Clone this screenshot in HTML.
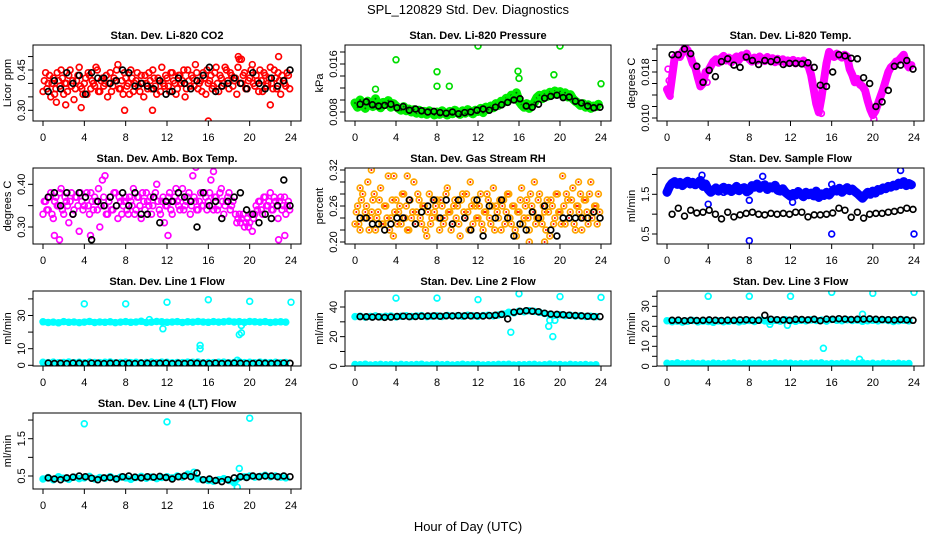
<!DOCTYPE html>
<html><head><meta charset="utf-8"><style>
body{margin:0;background:#fff;}
svg{display:block;font-family:"Liberation Sans",Arial,sans-serif;}
</style></head><body>
<svg id="chart" width="936" height="540" viewBox="0 0 936 540" xmlns="http://www.w3.org/2000/svg">
<rect width="936" height="540" fill="#fff"/>
<text x="468" y="14" font-size="13" text-anchor="middle">SPL_120829  Std. Dev. Diagnostics</text>
<text x="468" y="531" font-size="13" text-anchor="middle">Hour of Day (UTC)</text>
</svg>
<script>
// ---- data (96 values at 0.25 h steps; black = 40 values from 0.5 h at 0.6 h steps) ----
const xTicks=[0,4,8,12,16,20,24];
const co2Red=[0.37,0.44,0.40,0.35,0.42,0.38,0.41,0.45,0.36,0.40,0.43,0.39,0.34,0.41,0.46,0.38,0.40,0.36,0.43,0.41,0.39,0.45,0.37,0.42,
0.40,0.35,0.44,0.39,0.41,0.47,0.38,0.36,0.42,0.40,0.45,0.37,0.41,0.39,0.43,0.35,0.40,0.44,0.38,0.42,0.36,0.41,0.46,0.39,
0.42,0.37,0.44,0.40,0.38,0.43,0.41,0.35,0.45,0.39,0.42,0.47,0.38,0.41,0.44,0.36,0.40,0.43,0.39,0.46,0.37,0.42,0.40,0.45,
0.38,0.43,0.41,0.36,0.49,0.40,0.44,0.38,0.42,0.47,0.39,0.41,0.45,0.37,0.43,0.40,0.46,0.38,0.42,0.44,0.36,0.41,0.39,0.43];
const co2Red2=[0.41,0.38,0.43,0.40,0.36,0.44,0.39,0.42,0.40,0.37,0.45,0.41,0.38,0.43,0.39,0.36,0.42,0.44,0.38,0.40,0.46,0.37,0.41,0.39,
0.43,0.40,0.37,0.42,0.45,0.38,0.41,0.44,0.39,0.36,0.42,0.40,0.44,0.37,0.40,0.43,0.38,0.41,0.45,0.39,0.42,0.37,0.40,0.43,
0.39,0.44,0.41,0.36,0.43,0.40,0.45,0.38,0.41,0.43,0.39,0.44,0.40,0.37,0.42,0.45,0.41,0.38,0.44,0.40,0.43,0.39,0.46,0.41,
0.44,0.39,0.42,0.46,0.40,0.43,0.38,0.41,0.45,0.40,0.43,0.37,0.41,0.44,0.39,0.42,0.40,0.45,0.38,0.41,0.43,0.40,0.44,0.38];
const co2Black=[0.37,0.41,0.38,0.44,0.40,0.43,0.36,0.44,0.42,0.42,0.40,0.41,0.45,0.44,0.39,0.40,0.39,0.38,0.41,0.36,0.37,0.42,0.40,0.38,0.41,0.43,0.46,0.37,0.39,0.40,0.42,0.40,0.38,0.44,0.40,0.38,0.42,0.39,0.41,0.45];
const co2OutH=[3.7,7.9,10.6,16,18.9,22.8,19.2,22,1.3,2.2];
const co2OutV=[0.31,0.30,0.30,0.26,0.50,0.50,0.49,0.32,0.33,0.32];
const presGreen=[0.0095,0.0088,0.0100,0.0092,0.0086,0.0098,0.0094,0.0089,0.0102,0.0091,0.0087,0.0096,0.0093,0.0099,0.0088,0.0094,
0.0090,0.0086,0.0083,0.0089,0.0082,0.0085,0.0080,0.0084,0.0078,0.0083,0.0077,0.0081,0.0076,0.0082,0.0079,0.0075,
0.0080,0.0076,0.0082,0.0078,0.0075,0.0081,0.0077,0.0083,0.0079,0.0076,0.0082,0.0078,0.0084,0.0080,0.0077,0.0083,
0.0081,0.0086,0.0079,0.0088,0.0084,0.0090,0.0087,0.0094,0.0091,0.0098,0.0096,0.0103,0.0100,0.0108,0.0104,0.0112,
0.0098,0.0092,0.0088,0.0094,0.0086,0.0091,0.0096,0.0104,0.0108,0.0102,0.0110,0.0106,0.0113,0.0109,0.0115,0.0111,
0.0114,0.0108,0.0112,0.0105,0.0109,0.0102,0.0098,0.0095,0.0091,0.0094,0.0088,0.0092,0.0086,0.0090,0.0089,0.0093];
const presBlack=[0.0093,0.0097,0.0092,0.0090,0.0091,0.0093,0.0087,0.0089,0.0083,0.0085,0.0082,0.0080,0.0081,0.0079,0.0078,0.0080,0.0077,0.0079,0.0080,0.0083,0.0085,0.0083,0.0088,0.0092,0.0096,0.0100,0.0102,0.0090,0.0088,0.0093,0.0103,0.0106,0.0108,0.0104,0.0105,0.0098,0.0095,0.0090,0.0087,0.0088];
const presOutH=[4.0,8.0,8.0,9.2,2.0,12.0,20.0,15.9,16.0,19.4,24.0];
const presOutV=[0.0167,0.0147,0.0123,0.0123,0.0118,0.0190,0.0190,0.0148,0.0136,0.0142,0.0127];
const tempMag=[0.0150,0.0140,0.0172,0.0205,0.0210,0.0206,0.0215,0.0222,0.0218,0.0208,0.0195,0.0188,0.0170,0.0155,0.0160,0.0180,
0.0182,0.0190,0.0198,0.0202,0.0196,0.0204,0.0208,0.0200,0.0205,0.0197,0.0203,0.0207,0.0201,0.0209,0.0206,0.0212,
0.0202,0.0198,0.0205,0.0200,0.0207,0.0203,0.0199,0.0206,0.0201,0.0204,0.0197,0.0203,0.0198,0.0202,0.0196,0.0200,
0.0197,0.0201,0.0195,0.0199,0.0196,0.0200,0.0194,0.0190,0.0175,0.0150,0.0125,0.0110,0.0135,0.0165,0.0195,0.0215,
0.0210,0.0206,0.0212,0.0208,0.0205,0.0210,0.0207,0.0185,0.0175,0.0162,0.0168,0.0158,0.0155,0.0148,0.0130,0.0115,
0.0105,0.0112,0.0125,0.0138,0.0150,0.0165,0.0180,0.0188,0.0192,0.0198,0.0200,0.0205,0.0210,0.0195,0.0188,0.0192];
const tempBlack=[0.0210,0.0210,0.0220,0.0212,0.0190,0.0162,0.0183,0.0172,0.0198,0.0203,0.0192,0.0188,0.0206,0.0200,0.0193,0.0200,0.0198,0.0201,0.0193,0.0195,0.0195,0.0194,0.0196,0.0188,0.0157,0.0155,0.0180,0.0210,0.0208,0.0204,0.0203,0.0170,0.0160,0.0120,0.0128,0.0148,0.0190,0.0192,0.0200,0.0185];
const tempOutH=[0.1,0.2,0.3,3.9,15.0,20.1];
const tempOutV=[0.0185,0.0165,0.0138,0.0162,0.0108,0.0098];
const ambMag=[0.33,0.36,0.34,0.38,0.32,0.37,0.35,0.39,0.33,0.36,0.31,0.38,0.34,0.37,0.29,0.36,
0.35,0.38,0.33,0.36,0.37,0.34,0.30,0.41,0.35,0.33,0.37,0.34,0.38,0.32,0.36,0.35,
0.37,0.33,0.36,0.39,0.34,0.37,0.32,0.36,0.38,0.35,0.33,0.37,0.40,0.34,0.36,0.31,
0.35,0.38,0.33,0.37,0.36,0.34,0.39,0.35,0.37,0.33,0.42,0.36,0.34,0.38,0.35,0.37,
0.36,0.41,0.34,0.37,0.35,0.39,0.33,0.36,0.38,0.35,0.37,0.31,0.33,0.32,0.30,0.32,
0.31,0.29,0.33,0.34,0.36,0.33,0.37,0.35,0.38,0.34,0.36,0.32,0.37,0.35,0.33,0.36];
const ambMag2=[0.36,0.34,0.37,0.33,0.36,0.35,0.38,0.34,0.37,0.35,0.36,0.33,0.37,0.35,0.38,0.34,
0.37,0.35,0.38,0.34,0.36,0.39,0.35,0.37,0.33,0.36,0.34,0.38,0.35,0.37,0.33,0.36,
0.34,0.37,0.35,0.33,0.37,0.35,0.38,0.34,0.36,0.37,0.35,0.38,0.36,0.33,0.37,0.35,
0.37,0.34,0.36,0.39,0.35,0.37,0.34,0.36,0.38,0.35,0.37,0.34,0.36,0.35,0.38,0.34,
0.38,0.35,0.37,0.34,0.38,0.36,0.35,0.37,0.34,0.36,0.33,0.32,0.31,0.33,0.31,0.30,
0.33,0.32,0.35,0.36,0.34,0.37,0.35,0.36,0.34,0.37,0.35,0.36,0.34,0.37,0.35,0.34];
const ambBlack=[0.37,0.38,0.35,0.38,0.33,0.38,0.37,0.27,0.36,0.35,0.37,0.35,0.38,0.35,0.38,0.33,0.33,0.37,0.31,0.36,0.36,0.38,0.37,0.36,0.30,0.38,0.35,0.36,0.32,0.36,0.37,0.38,0.34,0.33,0.31,0.33,0.32,0.35,0.41,0.35];
const ambOutH=[1.1,1.6,4.6,14.8,16.5,12.1,22.8,23.4,6.0];
const ambOutV=[0.28,0.27,0.28,0.44,0.43,0.28,0.27,0.28,0.42];
const rhOrange=[0.23,0.26,0.22,0.28,0.25,0.30,0.24,0.27,0.22,0.25,0.29,0.23,0.26,0.31,0.24,0.21,
0.27,0.25,0.23,0.28,0.26,0.22,0.24,0.30,0.25,0.27,0.23,0.26,0.21,0.28,0.24,0.25,
0.27,0.22,0.26,0.24,0.29,0.25,0.23,0.27,0.26,0.21,0.28,0.24,0.25,0.30,0.23,0.26,
0.24,0.28,0.22,0.25,0.27,0.23,0.29,0.26,0.24,0.22,0.27,0.25,0.28,0.23,0.26,0.21,
0.25,0.29,0.24,0.27,0.22,0.26,0.30,0.24,0.28,0.23,0.25,0.27,0.21,0.26,0.24,0.28,
0.25,0.31,0.23,0.27,0.25,0.29,0.22,0.26,0.28,0.24,0.27,0.23,0.30,0.25,0.26,0.28];
const rhOrange2=[0.25,0.23,0.27,0.24,0.26,0.22,0.25,0.28,0.24,0.27,0.23,0.26,0.24,0.22,0.27,0.25,
0.23,0.26,0.28,0.24,0.22,0.27,0.25,0.23,0.28,0.24,0.26,0.22,0.25,0.23,0.27,0.26,
0.24,0.27,0.23,0.28,0.25,0.22,0.26,0.24,0.23,0.27,0.25,0.28,0.22,0.26,0.27,0.24,
0.26,0.23,0.25,0.28,0.24,0.26,0.22,0.25,0.27,0.26,0.23,0.28,0.24,0.26,0.22,0.25,
0.27,0.23,0.26,0.24,0.28,0.25,0.23,0.27,0.24,0.26,0.22,0.25,0.27,0.23,0.28,0.25,
0.23,0.26,0.28,0.24,0.27,0.23,0.26,0.25,0.22,0.27,0.25,0.28,0.24,0.26,0.23,0.25];
const rhBlack=[0.24,0.24,0.23,0.23,0.22,0.23,0.24,0.24,0.27,0.23,0.25,0.26,0.27,0.24,0.27,0.23,0.27,0.24,0.22,0.27,0.21,0.26,0.24,0.27,0.24,0.21,0.23,0.22,0.25,0.24,0.26,0.22,0.21,0.24,0.24,0.24,0.24,0.24,0.25,0.24];
const rhOutH=[1.6,3.8,5.1,0.5,18.5,21.8,17.0];
const rhOutV=[0.32,0.31,0.31,0.29,0.20,0.30,0.20];
const flowBlue=[1.55,1.70,1.78,1.82,1.75,1.80,1.72,1.78,1.83,1.76,1.80,1.74,1.79,1.85,1.70,1.76,
1.62,1.55,1.60,1.66,1.58,1.63,1.68,1.60,1.65,1.57,1.62,1.70,1.59,1.64,1.67,1.56,
1.60,1.72,1.68,1.76,1.65,1.71,1.74,1.62,1.69,1.66,1.73,1.60,1.58,1.64,1.55,1.50,
1.45,1.52,1.48,1.57,1.50,1.44,1.55,1.49,1.53,1.46,1.58,1.42,1.51,1.47,1.55,1.48,
1.56,1.62,1.58,1.65,1.55,1.61,1.67,1.59,1.63,1.57,1.52,1.46,1.40,1.48,1.55,1.50,
1.58,1.53,1.62,1.60,1.66,1.64,1.70,1.68,1.73,1.71,1.78,1.75,1.82,1.72,1.77,1.74];
const flowBlack=[1.00,1.15,0.95,1.10,1.03,1.05,1.10,1.00,0.88,1.05,0.93,0.98,1.02,1.05,1.00,0.98,1.02,1.00,1.02,1.00,1.05,1.05,0.93,0.98,0.98,1.00,1.03,1.15,1.10,0.92,1.05,0.90,1.00,1.02,1.02,1.05,1.07,1.10,1.15,1.12];
const flowOutH=[3.4,4.0,8.0,8.0,9.3,16.0,16.0,22.7,24.0,12.2,5.5];
const flowOutV=[1.98,1.25,0.33,1.35,1.95,0.50,1.75,2.10,0.50,1.30,1.55];
const l1High=[26.2,25.8,26.0,25.6,26.3,25.9,26.1,25.7,26.0,26.4,25.8,26.1,25.9,26.2,25.7,26.0,26.3,25.9,26.1,26.5,25.8,26.0,26.4,26.2,25.9,26.1,26.3,25.8,26.2,26.0,26.4,26.1,25.9,26.3,26.0,26.2,26.5,26.1,26.3,25.9,26.4,26.2,26.0,26.3,25.8,26.1,26.2,26.0];
const l1Low=[1.8,1.6,1.9,1.5,1.7,2.0,1.6,1.8,1.5,1.9,1.7,1.6,1.8,2.0,1.5,1.7,1.9,1.6,1.8,1.5,1.7,2.0,1.6,1.9,1.8,1.5,1.7,1.6,1.9,1.8,2.0,1.5,1.7,1.6,1.8,1.9,1.5,1.7,2.1,1.6,1.8,1.5,1.9,1.7,1.6,1.8,1.5,1.7];
const l1Black=[1.3,1.1,1.2,1.0,1.3,1.2,1.1,1.3,1.2,1.0,1.2,1.3,1.1,1.2,1.0,1.3,1.2,1.1,1.2,1.3,1.0,1.2,1.1,1.3,1.2,1.2,1.0,1.3,1.1,1.2,1.3,1.2,1.0,1.1,1.3,1.2,1.1,1.2,1.3,1.2];
const l1OutH=[4,8,12,16,20,24,11.6,15.2,15.2,18.8,19.0,19.2,19.2,10.3];
const l1OutV=[37,37,38,39.5,38.5,38,22,12,10,3,18.5,19.5,24,27.5];
const l2High=[33.5,33.8,33.2,33.6,34.0,33.4,33.7,33.9,33.3,33.8,34.1,33.6,33.9,34.2,33.5,33.8,34.0,33.6,34.3,33.9,34.1,33.7,34.4,34.0,33.8,34.2,34.5,34.0,34.6,35.2,36.5,36.0,37.2,36.8,37.5,37.0,36.4,35.6,35.0,34.5,34.8,34.2,34.4,33.9,34.1,33.6,33.8,33.5];
const l2Low=[1.2,1.0,1.4,0.9,1.1,1.3,1.0,1.2,0.9,1.3,1.1,1.0,1.2,1.4,0.9,1.1,1.3,1.0,1.2,0.9,1.1,1.4,1.0,1.3,1.2,0.9,1.1,1.0,1.3,1.2,1.4,0.9,1.1,1.0,1.2,1.3,0.9,1.1,1.5,1.0,1.2,0.9,1.3,1.1,1.0,1.2,0.9,1.1];
const l2Black=[33.5,33.4,33.2,33.3,33.0,33.2,33.6,33.8,33.5,33.6,33.7,33.9,34.0,33.8,34.1,33.9,34.2,34.0,34.0,34.1,33.9,34.2,34.4,35.0,32.0,36.5,37.0,37.5,37.2,36.8,35.8,35.2,35.0,34.8,34.5,34.3,34.0,33.8,33.5,33.5];
const l2OutH=[4,8,12,16,20,24,15.2,18.9,19.3,19.0,19.5];
const l2OutV=[46,46,45,49,47,46.5,23,27,20,31,31];
const l3High=[22.8,22.3,22.6,22.1,22.5,22.9,22.2,22.6,22.4,22.0,22.7,22.3,22.5,22.8,22.2,22.6,22.9,22.4,23.1,22.7,22.5,23.0,22.6,23.3,22.8,22.5,23.0,22.7,23.2,22.9,23.1,22.6,23.4,23.0,22.8,23.3,22.9,23.1,22.5,22.8,23.0,22.7,23.2,22.9,22.4,22.8,23.0,22.7];
const l3Low=[1.5,1.3,1.7,1.2,1.4,1.6,1.3,1.5,1.2,1.6,1.4,1.3,1.5,1.7,1.2,1.4,1.6,1.3,1.5,1.2,1.4,1.7,1.3,1.6,1.5,1.2,1.4,1.3,1.6,1.5,1.7,1.2,1.4,1.3,1.5,1.6,1.2,1.4,1.8,1.3,1.5,1.2,1.6,1.4,1.3,1.5,1.2,1.4];
const l3Black=[23.0,23.1,22.8,23.0,22.9,23.0,23.2,23.0,22.9,23.1,23.0,23.2,23.3,23.1,23.0,25.5,23.5,23.3,23.2,23.0,23.5,23.4,23.2,23.5,22.8,23.6,23.5,23.8,23.6,23.4,23.5,23.6,23.7,23.5,23.4,23.3,23.2,23.4,23.2,23.0];
const l3OutH=[4,8,12,16,20,24,15.2,18.7,19.0,10.0,11.7];
const l3OutV=[35,35,35,37,36.5,37,9,3.5,26,21,20.5];
const l4Cyan=[0.42,0.46,0.40,0.48,0.44,0.41,0.47,0.43,0.45,0.49,0.42,0.46,0.44,0.48,0.43,0.47,0.45,0.41,0.46,0.49,0.44,0.47,0.43,0.46,0.48,0.45,0.50,0.47,0.55,0.52,0.42,0.40,0.38,0.36,0.40,0.43,0.38,0.32,0.46,0.48,0.50,0.47,0.49,0.52,0.48,0.50,0.47,0.45];
const l4Black=[0.45,0.42,0.40,0.45,0.47,0.50,0.48,0.44,0.40,0.45,0.46,0.42,0.48,0.50,0.47,0.45,0.48,0.47,0.49,0.46,0.42,0.48,0.50,0.48,0.58,0.40,0.42,0.38,0.35,0.40,0.45,0.48,0.46,0.50,0.48,0.50,0.50,0.48,0.50,0.48];
const l4OutH=[4,12,20,19.0,18.8,14.6];
const l4OutV=[1.9,1.95,2.05,0.7,0.2,0.6];

// ---- layout ----
const NS="http://www.w3.org/2000/svg";
const svg=document.getElementById('chart');
const cols=[{l:33,r:301,xa:43,xb:291},{l:345,r:611,xa:355,xb:601},{l:657,r:924,xa:667,xb:914}];
const rows=[{t:45,b:121},{t:168,b:244},{t:291,b:366},{t:413,b:489}];
function mk(tag,attrs,parent){const e=document.createElementNS(NS,tag);for(const k in attrs)e.setAttribute(k,attrs[k]);(parent||svg).appendChild(e);return e;}

const panels=[
 {name:'co2',title:'Stan. Dev. Li-820 CO2',ylab:'Licor ppm',c:0,r:0,v1:0.30,p1:110.3,v2:0.45,p2:70,ticks:[0.30,0.35,0.40,0.45,0.50],labels:['0.30','0.45'],
  series:[{v:co2Red,step:0.25,start:0,col:'#ff0000'},{v:co2Red2,step:0.25,start:0.125,col:'#ff0000'},{h:co2OutH,v:co2OutV,col:'#ff0000'},{v:co2Black,step:0.6,start:0.5,col:'#000'}]},
 {name:'pressure',title:'Stan. Dev. Li-820 Pressure',ylab:'kPa',c:1,r:0,v1:0.008,p1:112,v2:0.016,p2:64,ticks:[0.008,0.010,0.012,0.014,0.016,0.018],labels:['0.008','0.016'],
  series:[{v:presGreen,step:0.25,start:0,col:'#00ee00',dot:'#006600',band:9},{h:presOutH,v:presOutV,col:'#00dd00'},{v:presBlack,step:0.6,start:0.5,col:'#000'}]},
 {name:'licor-temp',title:'Stan. Dev. Li-820 Temp.',ylab:'degrees C',c:2,r:0,v1:0.010,p1:118,v2:0.018,p2:72,ticks:[0.010,0.012,0.014,0.016,0.018,0.020,0.022],labels:['0.010','0.018'],
  series:[{v:tempMag,step:0.25,start:0,col:'#ff00ff',band:8},{h:tempOutH,v:tempOutV,col:'#ff00ff'},{v:tempBlack,step:0.6,start:0.5,col:'#000'}]},
 {name:'amb-box-temp',title:'Stan. Dev. Amb. Box Temp.',ylab:'degrees C',c:0,r:1,v1:0.30,p1:227,v2:0.40,p2:184.3,ticks:[0.30,0.35,0.40],labels:['0.30','0.40'],
  series:[{v:ambMag,step:0.25,start:0,col:'#ff00ff'},{v:ambMag2,step:0.25,start:0.125,col:'#ff00ff'},{h:ambOutH,v:ambOutV,col:'#ff00ff'},{v:ambBlack,step:0.6,start:0.5,col:'#000'}]},
 {name:'gas-rh',title:'Stan. Dev. Gas Stream RH',ylab:'percent',c:1,r:1,v1:0.20,p1:242,v2:0.32,p2:170,ticks:[0.20,0.22,0.24,0.26,0.28,0.30,0.32],labels:['0.20','0.26','0.32'],
  series:[{v:rhOrange,step:0.25,start:0,col:'#ffa500',dot:'#ff0000'},{v:rhOrange2,step:0.25,start:0.125,col:'#ffa500',dot:'#ff0000'},{h:rhOutH,v:rhOutV,col:'#ffa500',dot:'#ff0000'},{v:rhBlack,step:0.6,start:0.5,col:'#000'}]},
 {name:'sample-flow',title:'Stan. Dev. Sample Flow',ylab:'ml/min',c:2,r:1,v1:0.5,p1:234,v2:1.5,p2:194.3,ticks:[0.5,1.0,1.5,2.0],labels:['0.5','1.5'],
  series:[{v:flowBlue,step:0.25,start:0,col:'#0000ff',band:9},{h:flowOutH,v:flowOutV,col:'#0000ff'},{v:flowBlack,step:0.6,start:0.5,col:'#000'}]},
 {name:'line1-flow',title:'Stan. Dev. Line 1 Flow',ylab:'ml/min',c:0,r:2,v1:0,p1:365.3,v2:30,p2:315.5,ticks:[0,10,20,30,40],labels:['0','10','30'],
  series:[{v:l1High,step:0.5,start:0,col:'#00ffff',band:6},{v:l1Low,step:0.5,start:0,col:'#00ffff',band:5},{h:l1OutH,v:l1OutV,col:'#00ffff'},{v:l1Black,step:0.6,start:0.5,col:'#000'}]},
 {name:'line2-flow',title:'Stan. Dev. Line 2 Flow',ylab:'ml/min',c:1,r:2,v1:0,p1:366.3,v2:40,p2:307,ticks:[0,10,20,30,40],labels:['0','20','40'],
  series:[{v:l2High,step:0.5,start:0,col:'#00ffff',band:6},{v:l2Low,step:0.5,start:0,col:'#00ffff',band:5},{h:l2OutH,v:l2OutV,col:'#00ffff'},{v:l2Black,step:0.6,start:0.5,col:'#000'}]},
 {name:'line3-flow',title:'Stan. Dev. Line 3 Flow',ylab:'ml/min',c:2,r:2,v1:0,p1:366.3,v2:30,p2:306.3,ticks:[0,5,10,15,20,25,30,35],labels:['0','10','20','30'],
  series:[{v:l3High,step:0.5,start:0,col:'#00ffff',band:6},{v:l3Low,step:0.5,start:0,col:'#00ffff',band:5},{h:l3OutH,v:l3OutV,col:'#00ffff'},{v:l3Black,step:0.6,start:0.5,col:'#000'}]},
 {name:'line4-flow',title:'Stan. Dev. Line 4 (LT) Flow',ylab:'ml/min',c:0,r:3,v1:0.5,p1:476,v2:1.5,p2:438.7,ticks:[0.5,1.0,1.5,2.0],labels:['0.5','1.5'],
  series:[{v:l4Cyan,step:0.5,start:0,col:'#00ffff',band:6},{h:l4OutH,v:l4OutV,col:'#00ffff'},{v:l4Black,step:0.6,start:0.5,col:'#000'}]}
];

panels.forEach((p,pi)=>{
  const C=cols[p.c],R=rows[p.r];
  const xs=h=>C.xa+h*(C.xb-C.xa)/24;
  const ys=v=>p.p1+(v-p.v1)*(p.p2-p.p1)/(p.v2-p.v1);
  const g=mk('g',{});
  
  
  const cp=mk('clipPath',{id:'cp'+pi},g);
  mk('rect',{x:C.l,y:R.t,width:C.r-C.l,height:R.b-R.t},cp);
  const t=mk('text',{x:(C.l+C.r)/2,y:R.t-6,'font-size':11,'font-weight':'bold','text-anchor':'middle'},g);
  t.textContent=p.title;
  
  
  const yl=mk('text',{x:0,y:0,'font-size':11,'text-anchor':'middle',transform:`translate(${C.l-22},${(R.t+R.b)/2}) rotate(-90)`},g);
  yl.textContent=p.ylab;
  
  
  const pg=mk('g',{'clip-path':`url(#cp${pi})`,fill:'none'},g);
  
  
  p.series.forEach(s=>{
    const pts=s.v.map((v,i)=>[xs(s.h?s.h[i]:s.start+i*s.step),ys(v)]);
    if(s.band){
      const pl=mk('polyline',{points:pts.map(q=>q[0].toFixed(1)+','+q[1].toFixed(1)).join(' '),fill:'none',stroke:s.col,'stroke-width':s.band,'stroke-linejoin':'round','stroke-linecap':'round'},pg);
      
      
    }
    pts.forEach(q=>{
      const c=mk('circle',{cx:q[0].toFixed(1),cy:q[1].toFixed(1),r:2.9,stroke:s.col,'stroke-width':1.7,fill:'none'},pg);
      
      
      if(s.dot){const d=mk('circle',{cx:q[0].toFixed(1),cy:q[1].toFixed(1),r:1,fill:s.dot},pg);
        
        }
    });
  });
  const b=mk('rect',{x:C.l,y:R.t,width:C.r-C.l,height:R.b-R.t,fill:'none',stroke:'#000','stroke-width':1},g);
  
  
  xTicks.forEach(h=>{
    const x=xs(h);
    mk('line',{x1:x,x2:x,y1:R.b,y2:R.b+5,stroke:'#000'},g);
    const tl=mk('text',{x:x,y:R.b+20,'font-size':11,'text-anchor':'middle'},g);
    tl.textContent=String(h);
    
    
  });
  p.ticks.forEach(v=>{
    const y=ys(v);
    if(y<R.t-1||y>R.b+1)return;
    mk('line',{x1:C.l-5,x2:C.l,y1:y,y2:y,stroke:'#000'},g);
  });
  p.labels.forEach(s=>{
    const y=ys(parseFloat(s));
    const tl=mk('text',{x:0,y:0,'font-size':11,'text-anchor':'middle',transform:`translate(${C.l-8},${y}) rotate(-90)`},g);
    tl.textContent=s;
    
    
  });
});
</script>
</body></html>
